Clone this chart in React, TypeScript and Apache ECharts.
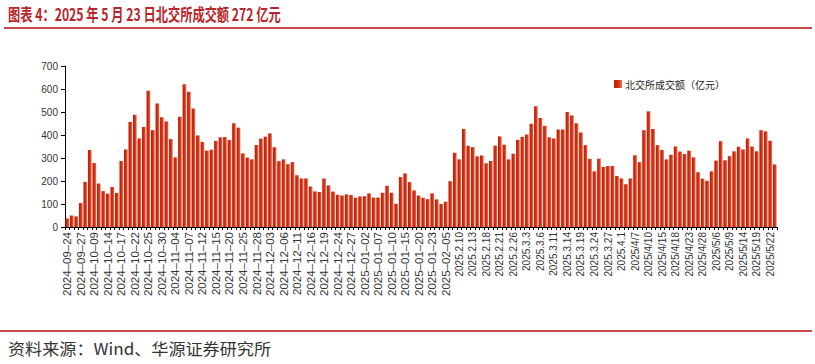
import React, { useEffect, useRef } from 'react';
import * as echarts from 'echarts';

const titleText = '图表 4：2025 年 5 月 23 日北交所成交额 272 亿元';
const sourceText = '资料来源：Wind、华源证券研究所';
const seriesName = '北交所成交额（亿元）';

const dates = [
  '2024–09–24', '2024–09–25', '2024–09–26', '2024–09–27', '2024–09–30',
  '2024–10–08', '2024–10–09', '2024–10–10', '2024–10–11', '2024–10–14', '2024–10–15', '2024–10–16', '2024–10–17', '2024–10–18',
  '2024–10–21', '2024–10–22', '2024–10–23', '2024–10–24', '2024–10–25', '2024–10–28', '2024–10–29', '2024–10–30', '2024–10–31',
  '2024–11–01', '2024–11–04', '2024–11–05', '2024–11–06', '2024–11–07', '2024–11–08', '2024–11–11', '2024–11–12', '2024–11–13',
  '2024–11–14', '2024–11–15', '2024–11–18', '2024–11–19', '2024–11–20', '2024–11–21', '2024–11–22', '2024–11–25', '2024–11–26',
  '2024–11–27', '2024–11–28', '2024–11–29',
  '2024–12–02', '2024–12–03', '2024–12–04', '2024–12–05', '2024–12–06', '2024–12–09', '2024–12–10', '2024–12–11', '2024–12–12',
  '2024–12–13', '2024–12–16', '2024–12–17', '2024–12–18', '2024–12–19', '2024–12–20', '2024–12–23', '2024–12–24', '2024–12–25',
  '2024–12–26', '2024–12–27', '2024–12–30', '2024–12–31',
  '2025–01–02', '2025–01–03', '2025–01–06', '2025–01–07', '2025–01–08', '2025–01–09', '2025–01–10', '2025–01–13', '2025–01–14',
  '2025–01–15', '2025–01–16', '2025–01–17', '2025–01–20', '2025–01–21', '2025–01–22', '2025–01–23', '2025–01–24', '2025–01–27',
  '2025–02–05', '2025–02–06', '2025–02–07',
  '2025.2.10', '2025.2.11', '2025.2.12', '2025.2.13', '2025.2.14', '2025.2.17', '2025.2.18', '2025.2.19', '2025.2.20', '2025.2.21',
  '2025.2.24', '2025.2.25', '2025.2.26', '2025.2.27', '2025.2.28',
  '2025.3.3', '2025.3.4', '2025.3.5', '2025.3.6', '2025.3.7', '2025.3.10', '2025.3.11', '2025.3.12', '2025.3.13', '2025.3.14',
  '2025.3.17', '2025.3.18', '2025.3.19', '2025.3.20', '2025.3.21', '2025.3.24', '2025.3.25', '2025.3.26', '2025.3.27', '2025.3.28',
  '2025.3.31', '2025.4.1', '2025.4.2', '2025.4.3',
  '2025/4/7', '2025/4/8', '2025/4/9', '2025/4/10', '2025/4/11', '2025/4/14', '2025/4/15', '2025/4/16', '2025/4/17', '2025/4/18',
  '2025/4/21', '2025/4/22', '2025/4/23', '2025/4/24', '2025/4/25', '2025/4/28', '2025/4/29', '2025/4/30',
  '2025/5/6', '2025/5/7', '2025/5/8', '2025/5/9', '2025/5/12', '2025/5/13', '2025/5/14', '2025/5/15', '2025/5/16', '2025/5/19',
  '2025/5/20', '2025/5/21', '2025/5/22', '2025/5/23',
];

const turnover = [
  37, 50, 46, 104, 196, 335, 278, 189, 156, 145,
  174, 148, 287, 337, 457, 488, 385, 435, 592, 421,
  537, 477, 459, 382, 303, 479, 621, 588, 515, 398,
  370, 332, 336, 374, 390, 391, 378, 451, 432, 320,
  302, 294, 356, 384, 393, 407, 347, 286, 294, 273,
  282, 225, 211, 211, 176, 155, 152, 211, 181, 154,
  140, 137, 142, 139, 127, 133, 134, 146, 128, 128,
  149, 179, 149, 101, 217, 233, 195, 159, 137, 127,
  121, 146, 120, 100, 110, 199, 323, 294, 426, 353,
  347, 307, 311, 277, 287, 354, 394, 358, 294, 319,
  379, 392, 402, 449, 525, 474, 440, 390, 385, 424,
  424, 500, 485, 451, 411, 356, 296, 242, 297, 261,
  265, 265, 222, 211, 186, 211, 312, 282, 421, 503,
  426, 356, 335, 294, 314, 350, 328, 317, 332, 303,
  238, 210, 201, 242, 289, 373, 290, 308, 329, 349,
  337, 385, 350, 329, 421, 416, 375, 272,
];

const yMin = 0;
const yMax = 700;
const yStep = 100;

export default function App() {
  const ref = useRef<HTMLDivElement>(null);

  useEffect(() => {
    const chart = echarts.init(ref.current as HTMLDivElement, null, { renderer: 'svg' });
    chart.setOption({
      animation: false,
      backgroundColor: '#ffffff',
      textStyle: { fontFamily: '"Liberation Sans", "Noto Sans CJK SC", sans-serif' },
      grid: { left: 65, right: 38, top: 66, bottom: 137, containLabel: false },
      legend: {
        show: true,
        left: 609,
        top: 74,
        itemWidth: 8,
        itemHeight: 8,
        itemGap: 4,
        icon: 'rect',
        textStyle: { fontSize: 10, color: '#222', fontFamily: '"Noto Sans CJK SC", sans-serif', padding: [0, 0, 0, -2] },
        data: [seriesName],
      },
      xAxis: {
        type: 'category',
        data: dates,
        boundaryGap: true,
        axisLine: { show: true, lineStyle: { color: '#000', width: 1 } },
        axisTick: { show: true, interval: 0, length: 3, lineStyle: { color: '#000' } },
        axisLabel: {
          interval: 2,
          rotate: 90,
          margin: 5,
          color: '#333',
          formatter: (v: string) => (v.indexOf('–') >= 0 ? `{a|${v}}` : `{b|${v}}`),
          rich: {
            a: { fontSize: 11.5, color: '#333', fontFamily: '"Liberation Sans", sans-serif' },
            b: { fontSize: 10, color: '#333', fontFamily: '"Liberation Sans", sans-serif' },
          },
        },
        splitLine: { show: false },
      },
      yAxis: {
        type: 'value',
        min: yMin,
        max: yMax,
        interval: yStep,
        axisLine: { show: true, lineStyle: { color: '#000', width: 1 } },
        axisTick: { show: true, length: 4, lineStyle: { color: '#000' } },
        axisLabel: { fontSize: 10, color: '#333', margin: 7 },
        splitLine: { show: false },
      },
      series: [
        {
          name: seriesName,
          type: 'bar',
          data: turnover,
          barCategoryGap: '18%',
          itemStyle: {
            color: new echarts.graphic.LinearGradient(0, 0, 1, 0, [
              { offset: 0, color: '#C41A02' },
              { offset: 0.55, color: '#D3300F' },
              { offset: 1, color: '#EA7560' },
            ]),
          },
        },
      ],
      graphic: [
        {
          type: 'text',
          x: 8,
          y: 5,
          scaleX: 0.72,
          style: {
            text: titleText,
            font: 'bold 17px "Noto Sans CJK SC", sans-serif',
            fill: '#B8252B',
          },
        },
        {
          type: 'rect',
          shape: { x: 4, y: 27, width: 808, height: 2 },
          style: { fill: '#C9484B' },
        },
        {
          type: 'rect',
          shape: { x: 0, y: 330, width: 812, height: 2 },
          style: { fill: '#C9484B' },
        },
        {
          type: 'text',
          x: 8,
          y: 340,
          scaleX: 1.07,
          style: {
            text: sourceText,
            font: '16px "Noto Sans CJK SC", sans-serif',
            fill: '#333',
          },
        },
      ],
    });
    return () => chart.dispose();
  }, []);

  return (
    <div
      ref={ref}
      style={{ position: 'absolute', left: 0, top: 0, width: 815, height: 364, background: '#fff' }}
    />
  );
}
